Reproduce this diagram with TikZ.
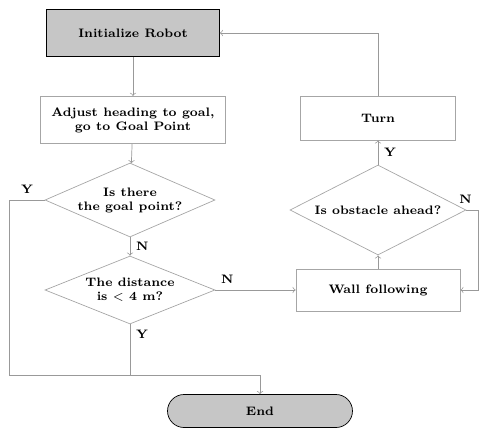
\documentclass[tikz,border=0pt]{standalone}
\usetikzlibrary{shapes.geometric}
\begin{document}
\begin{tikzpicture}[x = 0.02cm, y = -0.02cm, font = \scriptsize\bfseries,
    startbox/.style = {draw, fill = gray!45, minimum width = 3.46cm, minimum height = 0.94cm},
    procbox/.style = {draw = gray!70, align = center, minimum width = 3.7cm, minimum height = 0.95cm},
    decision/.style = {draw = gray!70, diamond, aspect = 2.3, align = center, inner sep = 0pt},
    endbox/.style = {draw, fill = gray!45, rounded corners = 0.33cm, minimum width = 3.7cm, minimum height = 0.66cm},
    line/.style = {draw = gray!80, ->},
    lbl/.style = {font = \scriptsize\bfseries}]
  \useasboundingbox (0, 0) rectangle (483, 440);

  \node [startbox] (init) at (133, 33) {Initialize Robot};
  \node [procbox] (move) at (133, 120) {Adjust heading to goal,\\go to Goal Point};
  \node [decision, minimum width = 3.4cm, minimum height = 1.48cm] (goal) at (130, 200) {Is there\\the goal point?};
  \node [decision, minimum width = 3.4cm, minimum height = 1.36cm] (dist) at (130, 290) {The distance\\is $<$ 4 m?};

  \node [procbox, minimum width = 3.1cm, minimum height = 0.88cm] (turn) at (378, 118) {Turn};
  \node [decision, minimum width = 3.52cm, minimum height = 1.8cm] (obst) at (378, 210) {Is obstacle ahead?};
  \node [procbox, minimum width = 3.28cm, minimum height = 0.84cm] (wall) at (378, 290) {Wall following};

  \node [endbox] (end) at (260, 411) {End};
  \coordinate (jn) at (260, 375);

  \draw [line] (init) -- (move);
  \draw [line] (move) -- (goal);
  \draw [line] (goal.west) -- ++(-35, 0) node [lbl, pos = 0.5, above] {Y} |- (jn) -- (end);
  \draw [line] (goal) -- node [lbl, right] {N} (dist);
  \draw [line, -] (dist.south) -- node [lbl, right, pos = 0.2] {Y} (dist.south |- jn);
  \draw [line] (dist.east) -- node [lbl, above, pos = 0.15] {N} (wall.west);

  \draw [line] (wall) -- (obst);
  \draw [line] (obst) -- node [lbl, right] {Y} (turn);
  \draw [line] (obst.east) -- (478, 210) node [lbl, above left] {N} |- (wall.east);
  \draw [line] (turn.north) |- (init.east);
\end{tikzpicture}
\end{document}
